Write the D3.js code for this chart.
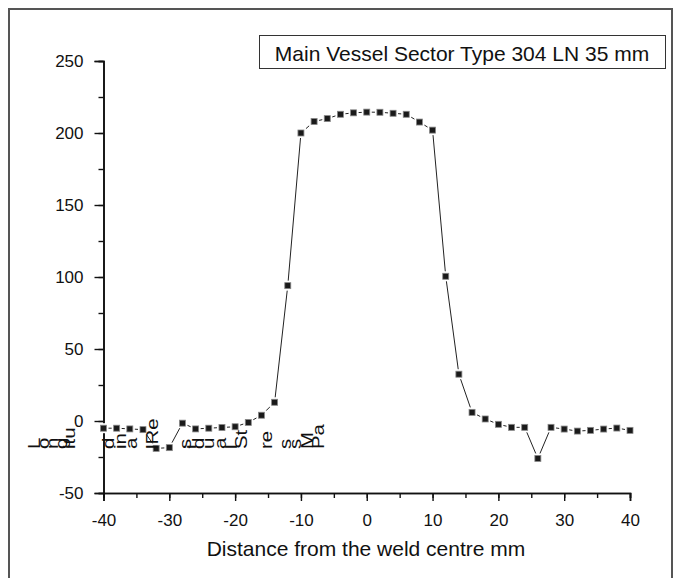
<!DOCTYPE html>
<html><head><meta charset="utf-8">
<script src="https://cdn.jsdelivr.net/npm/d3@7"></script>
<style>body{margin:0;background:#fff}svg{display:block}text{font-family:"Liberation Sans",Arial,sans-serif;fill:#111}</style>
</head><body>
<svg id="c" width="681" height="578"></svg>
<script>
// distance from weld centre (mm)
const distance = [-40,-38,-36,-34,-32,-30,-28,-26,-24,-22,-20,-18,-16,-14,-12,-10,-8,-6,-4,-2,0,2,4,6,8,10,12,14,16,18,20,22,24,26,28,30,32,34,36,38,40];
// longitudinal residual stress (MPa)
const stress = [-5,-5,-5.5,-6,-19,-18.5,-1.5,-5.5,-5,-4.5,-4,-1,4,13,94,200,208,210,213,214,214.5,214.4,213.7,213,207.6,202,100.5,32.5,6,1.4,-2.3,-4.4,-4.4,-26,-4.4,-5.6,-7,-6.5,-5.6,-4.9,-6.5];
const xTicks = [-40,-30,-20,-10,0,10,20,30,40];
const yTicks = [-50,0,50,100,150,200,250];
const legendText = "Main Vessel Sector Type 304 LN 35 mm";
const xTitle = "Distance from the weld centre mm";
// scattered y-axis label glyph groups (as they appear)
const yLabelGroups = ["L","o","n","g","itu","d","in","a","lRe","s","i","d","u","a","l","St","re","s","s","M","Pa"];
const yLabelX = [34,43,52,61,69,108,120,131,152,185,190,198,208,220,231,241,266,285,295,307,318];

const fmt = d => String(d); // plain hyphen minus

const svg = d3.select("#c");
// outer frame
svg.append("path").attr("d","M9,600V9H672V600").attr("fill","none").attr("stroke","#555").attr("stroke-width",2);

const x = d3.scaleLinear().domain([-40,40]).range([103.5,630]);
const y = d3.scaleLinear().domain([-50,250]).range([493,61]);

// minor ticks
svg.append("g").attr("transform","translate(0,493)")
  .call(d3.axisBottom(x).tickValues(d3.range(-40,41,5)).tickSize(5).tickFormat(""));
svg.append("g").attr("transform","translate(0,493)")
  .call(d3.axisBottom(x).tickValues(xTicks).tickSize(8).tickPadding(13).tickFormat(fmt));
svg.append("g").attr("transform","translate(103.5,0)")
  .call(d3.axisLeft(y).tickValues(d3.range(-50,251,25)).tickSize(5).tickFormat(""));
svg.append("g").attr("transform","translate(103.5,0)")
  .call(d3.axisLeft(y).tickValues(yTicks).tickSize(9).tickPadding(11).tickFormat(fmt));
svg.selectAll(".domain").attr("stroke","#111").attr("stroke-width",1.6);
svg.selectAll(".tick line").attr("stroke","#111").attr("stroke-width",1.4);
svg.selectAll(".tick text").attr("font-size",17).attr("font-family","Liberation Sans, Arial, sans-serif").attr("fill","#111");

// line
const pts = distance.map((d,i)=>[d,stress[i]]);
svg.append("path").datum(pts)
  .attr("d", d3.line().x(d=>x(d[0])).y(d=>y(d[1])))
  .attr("fill","none").attr("stroke","#222").attr("stroke-width",1);
const m = svg.append("g").selectAll("g").data(pts).join("g")
  .attr("transform", d=>`translate(${x(d[0])},${y(d[1])})`);
m.append("rect").attr("x",-5).attr("y",-5).attr("width",10).attr("height",10).attr("fill","#fff");
m.append("rect").attr("x",-3).attr("y",-3).attr("width",6).attr("height",6).attr("fill","#1a1a1a").attr("stroke","#888").attr("stroke-width",0.8);

// legend
svg.append("rect").attr("x",259.5).attr("y",35.5).attr("width",406).attr("height",33).attr("fill","#fff").attr("stroke","#333").attr("stroke-width",1);
svg.append("text").attr("x",462).attr("y",61).attr("text-anchor","middle").attr("font-size",21).text(legendText);

// x title
svg.append("text").attr("x",366).attr("y",556).attr("text-anchor","middle").attr("font-size",21).text(xTitle);

// y label glyphs
svg.append("g").selectAll("text").data(yLabelGroups).join("text")
  .attr("transform",(d,i)=>`translate(${yLabelX[i]},449) rotate(-90) scale(1.2,1)`)
  .attr("dominant-baseline","central")
  .attr("font-size",17).text(d=>d);
</script>
</body></html>
